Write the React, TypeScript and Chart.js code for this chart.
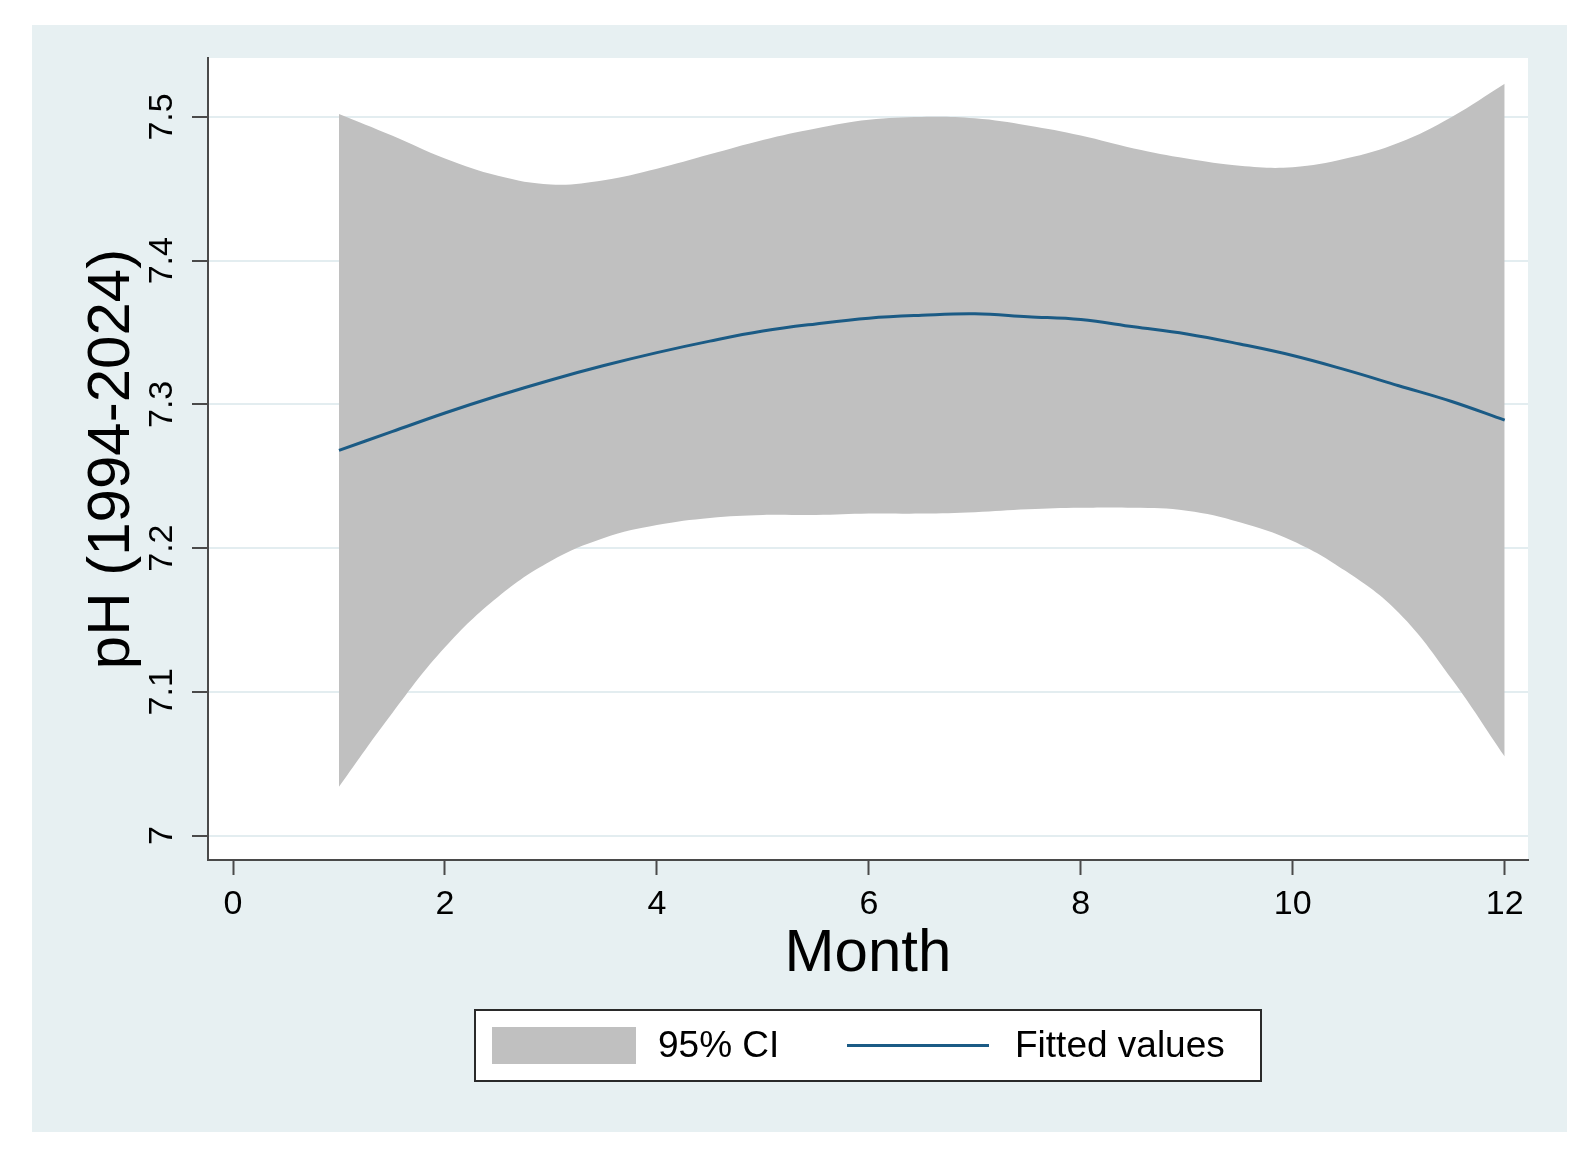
import React, { useEffect, useRef } from "react";
import { Chart, registerables } from "chart.js";

Chart.register(...registerables);

// Month positions at which the curves were read
const months = [1, 1.5, 2, 2.5, 3, 3.5, 4, 4.5, 5, 5.5, 6, 6.5, 7, 7.5, 8, 8.5, 9, 9.5, 10, 10.5, 11, 11.5, 12];
// Upper bound of the 95% CI
const ciUpper = [7.502, 7.487, 7.471, 7.459, 7.453, 7.456, 7.464, 7.474, 7.484, 7.492, 7.498, 7.5, 7.499, 7.494, 7.487, 7.478, 7.471, 7.466, 7.465, 7.471, 7.482, 7.5, 7.523];
// Lower bound of the 95% CI
const ciLower = [7.034, 7.085, 7.131, 7.166, 7.191, 7.207, 7.216, 7.221, 7.223, 7.223, 7.224, 7.224, 7.225, 7.227, 7.228, 7.228, 7.226, 7.218, 7.205, 7.184, 7.155, 7.109, 7.055];
// Fitted values
const fitted = [7.268, 7.281, 7.294, 7.306, 7.317, 7.327, 7.336, 7.344, 7.351, 7.356, 7.36, 7.362, 7.363, 7.361, 7.359, 7.354, 7.349, 7.342, 7.334, 7.324, 7.313, 7.302, 7.289];

const legendLabels = ["95% CI", "Fitted values"];
const xTitle = "Month";
const yTitle = "pH (1994-2024)";

const FONT = "'Liberation Sans', Arial, Helvetica, sans-serif";
const PANEL = "#e7f0f2";
const GRID = "#e3edf0";
const AXIS = "#4a4a4a";
const CI_COLOR = "#c0c0c0";
const LINE_COLOR = "#1b5b85";

const W = 1591;
const H = 1174;

const bgPlugin = {
  id: "stataBg",
  beforeDraw(chart: any) {
    const { ctx, chartArea } = chart;
    ctx.save();
    ctx.fillStyle = "#ffffff";
    ctx.fillRect(0, 0, chart.width, chart.height);
    ctx.fillStyle = PANEL;
    ctx.fillRect(32, 25, 1535, 1107);
    ctx.fillStyle = "#ffffff";
    ctx.fillRect(chartArea.left, chartArea.top, chartArea.right - chartArea.left, chartArea.bottom - chartArea.top);
    ctx.restore();
  },
};

const yLabelPlugin = {
  id: "yRotLabels",
  afterDraw(chart: any) {
    const { ctx } = chart;
    const ys = chart.scales.y;
    ctx.save();
    ctx.fillStyle = "#000";
    ctx.font = `34px ${FONT}`;
    ctx.textAlign = "center";
    ctx.textBaseline = "middle";
    for (const t of ys.ticks) {
      const py = ys.getPixelForValue(t.value);
      const label = Number(Number(t.value).toFixed(1)).toString();
      ctx.save();
      ctx.translate(ys.right - 45, py);
      ctx.rotate(-Math.PI / 2);
      ctx.fillText(label, 0, 0);
      ctx.restore();
    }
    ctx.restore();
  },
};

const legendPlugin = {
  id: "stataLegend",
  afterDraw(chart: any) {
    const { ctx, chartArea } = chart;
    const cx = (chartArea.left + chartArea.right) / 2;
    const bw = 786;
    const bh = 71;
    const bx = cx - bw / 2;
    const by = 1010;
    const my = by + bh / 2;
    ctx.save();
    ctx.fillStyle = "#ffffff";
    ctx.fillRect(bx, by, bw, bh);
    ctx.strokeStyle = "#2a2a2a";
    ctx.lineWidth = 2;
    ctx.strokeRect(bx, by, bw, bh);
    // CI swatch
    ctx.fillStyle = CI_COLOR;
    ctx.fillRect(bx + 17, my - 18.5, 144, 37);
    ctx.fillStyle = "#000";
    ctx.font = `37px ${FONT}`;
    ctx.textAlign = "left";
    ctx.textBaseline = "middle";
    ctx.fillText(legendLabels[0], bx + 183, my + 1);
    // line swatch
    ctx.strokeStyle = LINE_COLOR;
    ctx.lineWidth = 3;
    ctx.beginPath();
    ctx.moveTo(bx + 372, my);
    ctx.lineTo(bx + 514, my);
    ctx.stroke();
    ctx.fillText(legendLabels[1], bx + 540, my + 1);
    ctx.restore();
  },
};

export default function App() {
  const ref = useRef<HTMLCanvasElement | null>(null);

  useEffect(() => {
    if (!ref.current) return;
    const toPts = (arr: number[]) => months.map((m, i) => ({ x: m, y: arr[i] }));
    const chart = new Chart(ref.current, {
      type: "line",
      data: {
        datasets: [
          {
            label: legendLabels[1],
            data: toPts(fitted),
            borderColor: LINE_COLOR,
            borderWidth: 3,
            pointRadius: 0,
            fill: false,
            tension: 0.4,
          },
          {
            label: "upper",
            data: toPts(ciUpper),
            borderWidth: 0,
            borderColor: "rgba(0,0,0,0)",
            backgroundColor: CI_COLOR,
            pointRadius: 0,
            fill: "+1",
            tension: 0.4,
          },
          {
            label: legendLabels[0],
            data: toPts(ciLower),
            borderWidth: 0,
            borderColor: "rgba(0,0,0,0)",
            backgroundColor: CI_COLOR,
            pointRadius: 0,
            fill: false,
            tension: 0.4,
          },
        ],
      },
      options: {
        animation: false,
        responsive: false,
        devicePixelRatio: 1,
        layout: { padding: { left: 32, top: 58, right: 63, bottom: 184 } },
        plugins: { legend: { display: false }, tooltip: { enabled: false } },
        scales: {
          x: {
            type: "linear",
            min: -0.236,
            max: 12.22,
            afterFit: (s: any) => {
              s.height = 130;
            },
            ticks: {
              stepSize: 2,
              includeBounds: false,
              color: "#000",
              padding: 9,
              font: { family: FONT, size: 34 },
              callback: (v: any) => String(v),
            },
            grid: {
              drawOnChartArea: false,
              drawTicks: true,
              tickLength: 15,
              tickWidth: 2,
              tickColor: AXIS,
              color: AXIS,
            },
            border: { display: true, color: AXIS, width: 2 },
            title: {
              display: true,
              text: xTitle,
              color: "#000",
              font: { family: FONT, size: 60 },
              padding: { top: 0, bottom: 0 },
            },
          },
          y: {
            type: "linear",
            min: 6.983,
            max: 7.541,
            afterFit: (s: any) => {
              s.width = 176;
            },
            ticks: {
              stepSize: 0.1,
              includeBounds: false,
              display: false,
            },
            grid: {
              color: GRID,
              lineWidth: 2,
              drawTicks: true,
              tickLength: 16,
              tickWidth: 2,
              tickColor: AXIS,
            },
            border: { display: true, color: AXIS, width: 2 },
            title: {
              display: true,
              text: yTitle,
              color: "#000",
              font: { family: FONT, size: 60 },
              padding: { top: 44, bottom: 0 },
            },
          },
        },
      },
      plugins: [bgPlugin, yLabelPlugin, legendPlugin],
    } as any);
    return () => chart.destroy();
  }, []);

  return (
    <div style={{ position: "absolute", left: 0, top: 0, width: W, height: H, background: "#fff" }}>
      <canvas ref={ref} width={W} height={H} style={{ width: W, height: H, display: "block" }} />
    </div>
  );
}
